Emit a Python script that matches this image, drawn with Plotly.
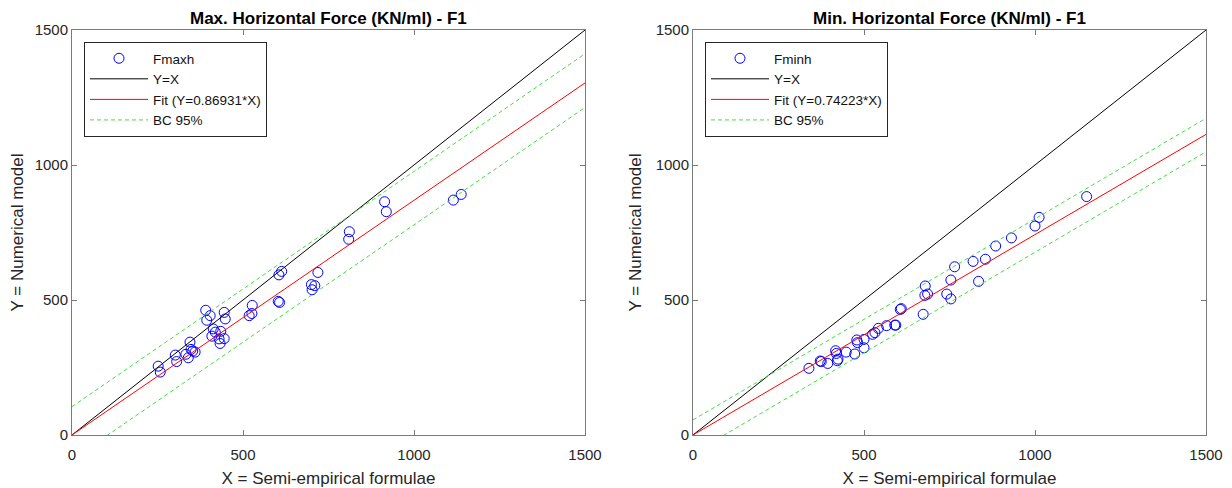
import plotly.graph_objects as go

# ---------------- data ----------------
# Left panel: Max. horizontal force
fmax_x = [252, 258, 302, 306, 333, 340, 345, 348, 353, 360, 391, 394, 404, 413, 409, 419,
          430, 435, 433, 445, 448, 445, 527, 518, 526, 603, 607, 605, 613, 700, 702, 710,
          719, 811, 809, 914, 919, 1115, 1138]
fmax_y = [255, 233, 296, 272, 299, 286, 344, 317, 311, 307, 462, 425, 442, 393, 366, 381,
          356, 384, 339, 454, 430, 357, 480, 442, 450, 495, 491, 593, 606, 557, 538, 553,
          602, 753, 725, 864, 827, 870, 891]
fit_slope_max = 0.86931
bc_x = [0, 1500]
bc_upper_max = [105, 1412]
bc_lower_max = [-91, 1213]

# Right panel: Min. horizontal force
fmin_x = [339, 372, 375, 394, 417, 419, 422, 424, 448, 473, 479, 481, 500, 500, 525, 532,
          542, 566, 590, 593, 606, 609, 673, 679, 678, 686, 742, 754, 754, 765, 819, 835,
          855, 885, 931, 1000, 1012, 1151]
fmin_y = [247, 274, 272, 265, 312, 302, 275, 281, 307, 300, 352, 342, 354, 323, 373, 379,
          395, 405, 407, 407, 465, 468, 447, 552, 517, 522, 522, 504, 574, 623, 643, 569,
          651, 700, 730, 774, 806, 883]
fit_slope_min = 0.74223
bc_upper_min = [56, 1173]
bc_lower_min = [-68, 1049]

ref_x = [0, 1500]
tick_vals = [0, 500, 1000, 1500]
tick_text = ["0", "500", "1000", "1500"]

FONT = "Liberation Sans, Arial, sans-serif"
AX_COL = "#262626"

fig = go.Figure()


def add_panel(xs, ys, slope, up, lo, name, fitname, xa, ya, leg):
    fig.add_trace(go.Scatter(x=xs, y=ys, mode="markers", name=name,
                             marker=dict(symbol="circle-open", size=10,
                                         color="#0000ff", line=dict(width=1, color="#0000ff")),
                             xaxis=xa, yaxis=ya, legend=leg))
    fig.add_trace(go.Scatter(x=ref_x, y=ref_x, mode="lines", name="Y=X",
                             line=dict(color="#000000", width=1),
                             xaxis=xa, yaxis=ya, legend=leg))
    fig.add_trace(go.Scatter(x=ref_x, y=[slope * v for v in ref_x], mode="lines",
                             name=fitname, line=dict(color="#ff0000", width=1),
                             xaxis=xa, yaxis=ya, legend=leg))
    fig.add_trace(go.Scatter(x=bc_x, y=up, mode="lines", name="BC 95%",
                             line=dict(color="#44dd44", width=1, dash="4px,3px"),
                             xaxis=xa, yaxis=ya, legend=leg, legendgroup=leg + "bc"))
    fig.add_trace(go.Scatter(x=bc_x, y=lo, mode="lines", name="BC 95%", showlegend=False,
                             line=dict(color="#44dd44", width=1, dash="4px,3px"),
                             xaxis=xa, yaxis=ya, legend=leg, legendgroup=leg + "bc"))


add_panel(fmax_x, fmax_y, fit_slope_max, bc_upper_max, bc_lower_max,
          "Fmaxh", "Fit (Y=0.86931*X)", "x", "y", "legend")
add_panel(fmin_x, fmin_y, fit_slope_min, bc_upper_min, bc_lower_min,
          "Fminh", "Fit (Y=0.74223*X)", "x2", "y2", "legend2")

# page body has an 8px margin, so the figure is laid out in a 1224x480 box
W, H = 1224, 480
L1, R1 = 64, 577
L2, R2 = 685, 1198
TOP, BOT = 22, 427
ydom = [(H - BOT) / H, (H - TOP) / H]

axis_common = dict(range=[0, 1500], tickvals=tick_vals, ticktext=tick_text,
                   showgrid=False, zeroline=False, showline=True, linecolor="#7a7a7a",
                   linewidth=1, mirror="ticks", ticks="inside", ticklen=5, automargin=False,
                   tickcolor="#7a7a7a", tickfont=dict(family=FONT, size=15, color=AX_COL))

xtitle = dict(text="X = Semi-empirical formulae", font=dict(size=17), standoff=13)
ytitle = dict(text="Y = Numerical model", font=dict(size=17), standoff=9)

leg_common = dict(xanchor="left", yanchor="top", bgcolor="white", bordercolor=AX_COL,
                  borderwidth=1, font=dict(family=FONT, size=13.5, color="#111"),
                  tracegroupgap=0, itemwidth=58)

fig.update_layout(
    width=W, height=H,
    margin=dict(l=0, r=0, t=0, b=0, autoexpand=False),
    paper_bgcolor="white", plot_bgcolor="white",
    font=dict(family=FONT, color=AX_COL),
    xaxis=dict(domain=[L1 / W, R1 / W], anchor="y", title=xtitle, ticklabelstandoff=6,
               **axis_common),
    yaxis=dict(domain=ydom, anchor="x", title=ytitle, **axis_common),
    xaxis2=dict(domain=[L2 / W, R2 / W], anchor="y2", title=xtitle, ticklabelstandoff=6,
                **axis_common),
    yaxis2=dict(domain=ydom, anchor="x2", title=ytitle, **axis_common),
    legend=dict(x=(L1 + 12) / W, y=(H - (TOP + 12)) / H, **leg_common),
    legend2=dict(x=(L2 + 12) / W, y=(H - (TOP + 12)) / H, **leg_common),
    annotations=[
        dict(text="<b>Max. Horizontal Force (KN/ml) - F1</b>", x=(L1 + R1) / 2 / W,
             y=(H - 10) / H, xref="paper", yref="paper", showarrow=False,
             font=dict(family=FONT, size=17, color="#000"), xanchor="center", yanchor="middle"),
        dict(text="<b>Min. Horizontal Force (KN/ml) - F1</b>", x=(L2 + R2) / 2 / W,
             y=(H - 10) / H, xref="paper", yref="paper", showarrow=False,
             font=dict(family=FONT, size=17, color="#000"), xanchor="center", yanchor="middle"),
    ],
)

fig.write_html("out.html")
